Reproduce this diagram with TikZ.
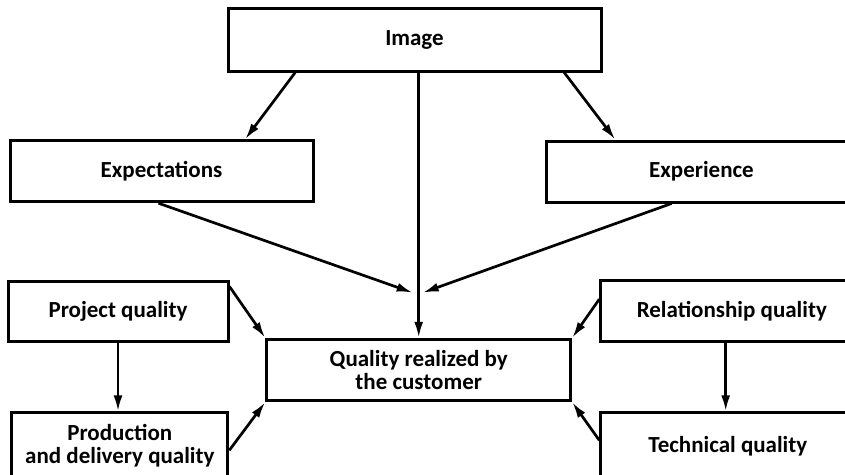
\documentclass[tikz,border=0pt]{standalone}
\usepackage{fontspec}
\setmainfont{Carlito}
\usetikzlibrary{arrows.meta,calc}
\begin{document}
\begin{tikzpicture}[x=1pt,y=-1pt,
  box/.style={draw,line width=3pt,minimum width=#1,inner sep=0pt,align=center,
    font=\fontsize{23}{22.5}\selectfont\bfseries},
  conn/.style={line width=2.7pt,-{Latex[length=16pt,width=9pt]}}]
\useasboundingbox (0,0) rectangle (845,474);
\clip (0,0) rectangle (845,474);
\node[box=373pt,minimum height=63pt] (img) at (414.5,39.5) {Image};
\node[box=303pt,minimum height=61pt] (exp) at (161.5,171.2) {Expectations};
\node[box=311pt,minimum height=61pt] (expr) at (701.5,171.5) {Experience};
\node[box=220pt,minimum height=60pt] (proj) at (118,311.7) {Project quality};
\node[box=216pt,minimum height=66pt] (prod) at (119.8,445.8) {Production\\and delivery quality};
\node[box=304pt,minimum height=61.4pt] (qual) at (418.7,370) {Quality realized by\\the customer};
\node[box=262pt,minimum height=60.7pt] (rel) at (731.8,311.3) {Relationship quality};
\node[box=254pt,minimum height=66pt] (tech) at (727.8,445.8) {Technical quality};
\coordinate (jl) at (412.7,292.7);
\coordinate (jr) at (422.7,292.7);
% connectors
\draw[conn] ($(img.south west)+(68.7,0)$) -- ($(exp.north west)+(236.7,0)$);
\draw[conn] (img.south -| qual.north) -- (qual.north);
\draw[conn] ($(img.south west)+(337.7,0)$) -- ($(expr.north west)+(70.7,0)$);
\draw[conn] ($(exp.south west)+(150,0)$) -- (jl);
\draw[conn] ($(expr.south west)+(127,0)$) -- (jr);
\draw[conn] (proj.south) -- (proj.south |- prod.north);
\draw[conn] ($(proj.north east)+(0,6.3)$) -- (qual.north west);
\draw[conn] ($(prod.north east)+(0,39)$) -- (qual.south west);
\draw[conn] (rel.south -| 725.7,0) -- (tech.north -| 725.7,0);
\draw[conn] ($(rel.north west)+(0,19.7)$) -- (qual.north east);
\draw[conn] ($(tech.north west)+(0,29)$) -- (qual.south east);
\end{tikzpicture}
\end{document}
